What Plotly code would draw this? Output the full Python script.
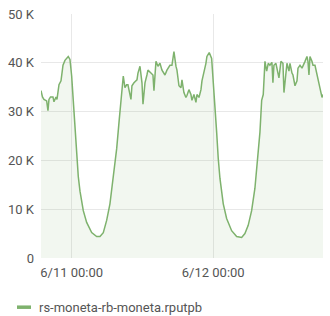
import pandas as pd
import plotly.graph_objects as go

# hours since 6/11 00:00
hours = [-5.20, -4.95, -4.70, -4.24, -4.02, -3.85, -3.59, -3.17, -3.00, -2.66, -2.49, -2.15, -1.81,
         -1.47, -1.14, -0.80, -0.58, -0.29, 0.00, 0.27, 0.56, 0.85, 1.12, 1.41, 1.97, 2.54, 3.39,
         4.24, 4.80, 5.36, 5.93, 6.49, 7.05, 7.63, 8.07, 8.48, 8.75, 9.03, 9.32, 9.54, 10.05, 10.22,
         10.56, 11.07, 11.24, 11.58, 11.92, 12.09, 12.43, 12.76, 12.93, 13.44, 13.78, 13.95, 14.29,
         14.63, 14.97, 15.31, 15.65, 15.82, 16.15, 16.66, 17.00, 17.34, 17.68, 17.85, 18.19, 18.53,
         18.70, 19.03, 19.37, 19.54, 19.88, 20.22, 20.39, 20.73, 21.07, 21.24, 21.58, 21.92, 22.09,
         22.42, 22.76, 22.93, 23.32, 23.73, 24.00, 24.29, 24.58, 24.85, 25.14, 25.70, 26.27, 27.12,
         27.97, 28.82, 29.37, 29.93, 30.51, 31.07, 31.46, 31.92, 32.21, 32.48, 32.77, 33.06, 33.33,
         33.61, 33.95, 34.12, 34.29, 34.63, 34.97, 35.14, 35.48, 35.82, 35.99, 36.33, 36.50, 36.84,
         37.01, 37.35, 37.52, 37.86, 38.20, 38.37, 38.71, 39.05, 39.22, 39.56, 39.89, 40.06, 40.23,
         40.40, 40.74, 40.91, 41.25, 41.59, 41.76, 42.10, 42.44, 42.61]
values_k = [34.3, 33.0, 32.5, 32.2, 30.2, 32.5, 33.0, 33.0, 32.0, 33.0, 32.5, 35.5, 36.3,
            39.5, 40.5, 41.1, 41.3, 40.7, 37.3, 32.3, 26.4, 21.2, 16.7, 13.7, 9.7, 7.3, 5.2,
            4.4, 4.4, 5.2, 7.7, 11.1, 16.3, 22.4, 28.4, 33.3, 37.3, 34.9, 35.5, 35.5, 32.5, 35.3,
            35.9, 36.5, 37.9, 39.3, 35.9, 31.5, 35.9, 37.5, 38.5, 37.9, 37.5, 34.3, 40.3,
            39.3, 39.9, 38.5, 37.9, 37.5, 38.5, 39.5, 39.5, 42.3, 39.3, 38.5, 35.3, 34.9,
            36.5, 33.9, 32.9, 33.3, 34.5, 33.5, 32.3, 33.5, 31.9, 33.5, 32.9, 34.5, 36.3,
            37.9, 39.9, 41.3, 42.1, 40.9, 36.5, 31.3, 25.8, 20.4, 16.3, 11.1, 8.1, 5.6,
            4.4, 4.2, 5.0, 6.7, 9.7, 14.3, 19.2, 25.8, 32.3, 33.5, 40.3, 38.3, 39.9,
            39.5, 40.1, 35.9, 39.5, 39.9, 37.9, 36.9, 40.3, 39.9, 33.9, 38.5, 39.9, 38.3,
            39.9, 37.9, 37.5, 35.3, 36.3, 38.9, 39.5, 38.9, 39.5, 40.3, 41.3, 40.3, 37.5,
            41.3, 40.3, 39.5, 39.5, 37.5, 36.9, 34.5, 32.9, 33.5]
series_name = "rs-moneta-rb-moneta.rputpb"
y_tick_vals = [0, 10000, 20000, 30000, 40000, 50000]
y_tick_text = ["0", "10 K", "20 K", "30 K", "40 K", "50 K"]
x_tick_vals = ["2023-06-11 00:00", "2023-06-12 00:00"]
x_tick_text = ["6/11 00:00", "6/12 00:00"]

base = pd.Timestamp("2023-06-11 00:00")
times = [base + pd.Timedelta(hours=h) for h in hours]
values = [v * 1000 for v in values_k]

line_color = "#7EB26D"
grid_color = "#e8e8e8"
text_color = "#555555"

W, H = 330, 316
ML, MR, MT, MB = 41, 7, 10, 58
PW, PH = W - ML - MR, H - MT - MB

def px_x(p):
    return (p - ML) / PW

def px_y(p):
    return (H - MB - p) / PH

fig = go.Figure()
fig.add_trace(go.Scatter(
    x=times, y=values, mode="lines", name=series_name,
    line=dict(color=line_color, width=1.5),
    fill="tozeroy", fillcolor="rgba(126,178,109,0.10)",
    showlegend=False,
))

# legend (key + label)
legend_y = px_y(308)
fig.add_shape(type="line", xref="paper", yref="paper",
              x0=px_x(17), x1=px_x(31), y0=legend_y, y1=legend_y,
              line=dict(color=line_color, width=3.5))
fig.add_annotation(xref="paper", yref="paper", x=px_x(37), y=legend_y,
                   xanchor="left", yanchor="middle", showarrow=False,
                   text=series_name, font=dict(size=13, color=text_color))

fig.update_layout(
    width=W, height=H,
    margin=dict(l=ML, r=MR, t=MT, b=MB),
    paper_bgcolor="white", plot_bgcolor="white",
    font=dict(family="Roboto", size=13, color=text_color),
    showlegend=False,
    xaxis=dict(
        range=[base + pd.Timedelta(hours=-5.20), base + pd.Timedelta(hours=42.61)],
        tickvals=x_tick_vals, ticktext=x_tick_text,
        showgrid=True, gridcolor=grid_color, zeroline=False, showline=False,
        ticks="", ticklabelstandoff=5, tickfont=dict(size=13, color=text_color),
    ),
    yaxis=dict(
        range=[0, 50000], tickvals=y_tick_vals, ticktext=y_tick_text,
        showgrid=True, gridcolor=grid_color, zeroline=False, showline=False,
        ticks="", ticklabelstandoff=6, tickfont=dict(size=13, color=text_color),
    ),
)

fig.write_html("out.html")
